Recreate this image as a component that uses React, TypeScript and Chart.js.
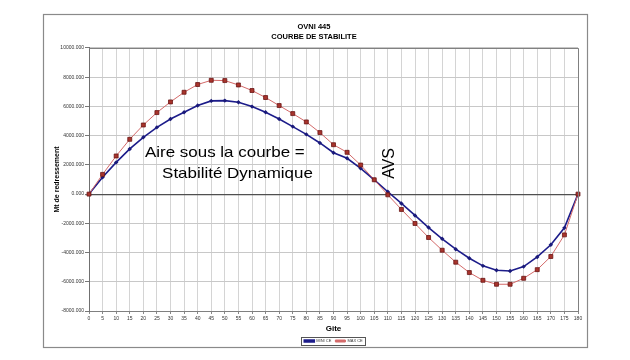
import React, { useEffect, useRef } from "react";
import { Chart, registerables } from "chart.js";

Chart.register(...registerables);

// ---------- data ----------
const titleLines = ["OVNI 445", "COURBE DE STABILITE"];
const xTitle = "Gite";
const yTitle = "Mt de redressement";
const gite = [0, 5, 10, 15, 20, 25, 30, 35, 40, 45, 50, 55, 60, 65, 70, 75, 80, 85, 90, 95, 100, 105, 110, 115, 120, 125, 130, 135, 140, 145, 150, 155, 160, 165, 170, 175, 180];
const miniCE = [0, 1150, 2170, 3090, 3890, 4570, 5140, 5600, 6060, 6380, 6400, 6290, 5990, 5600, 5140, 4620, 4090, 3500, 2830, 2450, 1760, 980, 160, -640, -1460, -2290, -3060, -3770, -4390, -4910, -5210, -5260, -4960, -4300, -3470, -2310, 0];
const maxCE = [0, 1350, 2610, 3750, 4730, 5580, 6310, 6970, 7500, 7790, 7770, 7470, 7090, 6610, 6060, 5510, 4940, 4210, 3380, 2860, 1990, 980, -50, -1050, -2010, -2970, -3840, -4660, -5370, -5900, -6170, -6170, -5760, -5170, -4270, -2790, 0];
const seriesNames = ["MINI CE", "MAX CE"];
const yMin = -8000;
const yMax = 10000;
const yStep = 2000;
const noteLines = ["Aire sous la courbe =", "Stabilité Dynamique"];
const noteAVS = "AVS";

const FONT = "'Liberation Sans', Arial, sans-serif";

const framePlugin = {
  id: "frame",
  beforeDraw(chart: any) {
    const { ctx, width, height } = chart;
    ctx.save();
    ctx.fillStyle = "#ffffff";
    ctx.fillRect(0, 0, width, height);
    ctx.strokeStyle = "#8a8a8a";
    ctx.lineWidth = 1.2;
    ctx.strokeRect(43.5, 14.5, 544, 333);
    ctx.restore();
  },
  afterDatasetsDraw(chart: any) {
    const { ctx, chartArea } = chart;
    ctx.save();
    ctx.strokeStyle = "#808080";
    ctx.lineWidth = 1;
    ctx.beginPath();
    ctx.moveTo(chartArea.left, chartArea.top + 0.5);
    ctx.lineTo(chartArea.right + 0.5, chartArea.top + 0.5);
    ctx.lineTo(chartArea.right + 0.5, chartArea.bottom);
    ctx.stroke();
    ctx.restore();
  },
  afterDraw(chart: any) {
    const { ctx } = chart;
    const boxes = chart.legend && chart.legend.legendHitBoxes;
    if (boxes && boxes.length) {
      let l = Infinity, t = Infinity, r = -Infinity, b = -Infinity;
      boxes.forEach((h: any) => {
        l = Math.min(l, h.left);
        t = Math.min(t, h.top);
        r = Math.max(r, h.left + h.width);
        b = Math.max(b, h.top + h.height);
      });
      ctx.save();
      ctx.strokeStyle = "#555";
      ctx.lineWidth = 1;
      ctx.strokeRect(Math.round(l - 3) + 0.5, Math.round(t - 2) + 0.5, Math.round(r - l + 6), Math.round(b - t + 4));
      ctx.restore();
    }
  },
};

const notePlugin = {
  id: "notes",
  afterDatasetsDraw(chart: any) {
    const { ctx, scales } = chart;
    const x = scales.x;
    const y = scales.y;
    const px = (deg: number) => x.getPixelForValue(deg / 5);
    ctx.save();
    ctx.fillStyle = "#000";
    ctx.font = `15px ${FONT}`;
    ctx.textBaseline = "alphabetic";
    ctx.textAlign = "left";
    const draw = (text: string, deg: number, val: number) => {
      ctx.save();
      ctx.translate(px(deg), y.getPixelForValue(val));
      ctx.scale(1.13, 1);
      ctx.fillText(text, 0, 0);
      ctx.restore();
    };
    draw(noteLines[0], 20.6, 2510);
    draw(noteLines[1], 26.9, 1070);
    ctx.save();
    ctx.translate(px(110.8), y.getPixelForValue(2100));
    ctx.rotate(-Math.PI / 2);
    ctx.font = `16px ${FONT}`;
    ctx.textAlign = "center";
    ctx.textBaseline = "middle";
    ctx.fillText(noteAVS, 0, 0);
    ctx.restore();
    ctx.restore();
  },
};

export default function App() {
  const ref = useRef<HTMLCanvasElement | null>(null);

  useEffect(() => {
    if (!ref.current) return;
    Chart.defaults.font.family = FONT;
    const chart = new Chart(ref.current, {
      type: "line",
      data: {
        labels: gite.map(String),
        datasets: [
          {
            label: seriesNames[0],
            data: miniCE,
            borderColor: "#1c1c8a",
            backgroundColor: "#1c1c8a",
            borderWidth: 1.6,
            pointStyle: "rectRot",
            pointRadius: 2.2,
            pointBorderWidth: 0,
            pointBackgroundColor: "#1a1a7a",
            tension: 0,
            order: 1,
          },
          {
            label: seriesNames[1],
            data: maxCE,
            borderColor: "#d46a6a",
            backgroundColor: "#d46a6a",
            borderWidth: 1,
            pointStyle: "rect",
            pointRadius: 2.8,
            pointBorderWidth: 0.8,
            pointBorderColor: "#6a1515",
            pointBackgroundColor: "#a8342c",
            tension: 0,
            order: 0,
          },
        ],
      },
      options: {
        responsive: false,
        animation: false,
        devicePixelRatio: 1,
        layout: { padding: { left: 50, right: 52, top: 20, bottom: 7 } },
        plugins: {
          title: {
            display: true,
            text: titleLines,
            color: "#000",
            font: { size: 7.5, weight: "bold", lineHeight: 1.333 },
            padding: { top: 2, bottom: 6 },
          },
          legend: {
            display: true,
            position: "bottom",
            fullSize: false,
            labels: {
              color: "#333",
              font: { size: 4 },
              boxWidth: 10,
              boxHeight: 2,
              padding: 4,
              sort: (a: any, b: any) => a.datasetIndex - b.datasetIndex,
            },
          },
          tooltip: { enabled: false },
        },
        scales: {
          x: {
            type: "category",
            offset: false,
            afterFit: (s: any) => { s.height = 24; },
            grid: {
              color: "#d4d4d4",
              lineWidth: 1,
              drawTicks: true,
              tickLength: 3,
              tickColor: "#888",
            },
            border: { display: true, color: "#808080", width: 1 },
            ticks: {
              autoSkip: false,
              maxRotation: 0,
              minRotation: 0,
              color: "#333",
              font: { size: 5 },
              padding: 2,
            },
            title: {
              display: true,
              text: xTitle,
              color: "#000",
              font: { size: 8, weight: "bold" },
              padding: { top: 0, bottom: 1 },
            },
          },
          y: {
            type: "linear",
            min: yMin,
            max: yMax,
            afterFit: (s: any) => { s.width = 39; },
            grid: {
              color: (c: any) => (c.tick && c.tick.value === 0 ? "#505050" : "#c8c8c8"),
              lineWidth: (c: any) => (c.tick && c.tick.value === 0 ? 1.2 : 1),
              drawTicks: true,
              tickLength: 4,
              tickColor: "#777",
            },
            border: { display: true, color: "#707070", width: 1 },
            ticks: {
              stepSize: yStep,
              color: "#333",
              font: { size: 5 },
              padding: 1,
              callback: (v: any) => Number(v).toFixed(3),
            },
            title: {
              display: true,
              text: yTitle,
              color: "#000",
              font: { size: 7, weight: "bold" },
              padding: { top: 3, bottom: 0 },
            },
          },
        },
      },
      plugins: [framePlugin, notePlugin],
    });
    return () => chart.destroy();
  }, []);

  return (
    <div style={{ position: "fixed", left: 0, top: 0, width: 630, height: 360, background: "#fff" }}>
      <canvas ref={ref} width={630} height={360} style={{ display: "block" }} />
    </div>
  );
}
